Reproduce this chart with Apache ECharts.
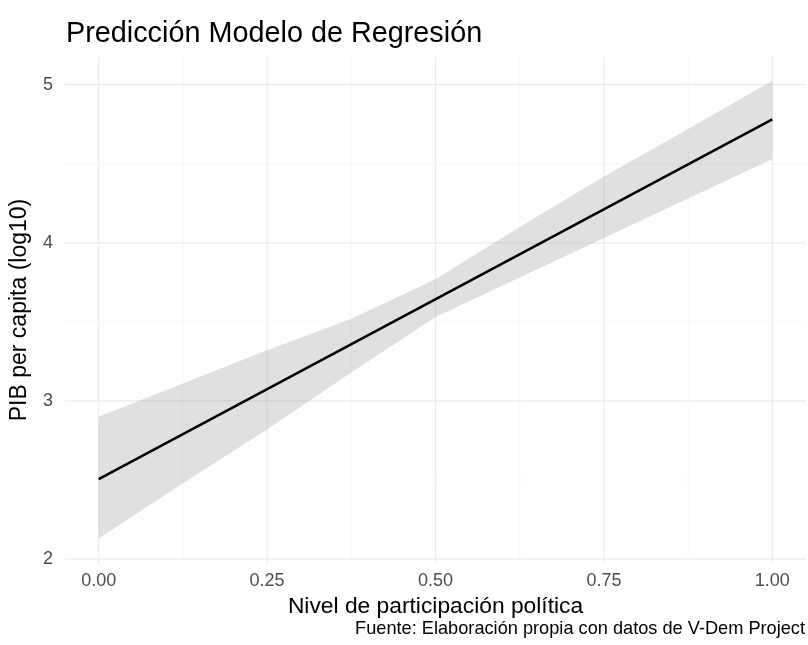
<!DOCTYPE html>
<html>
<head>
<meta charset="utf-8">
<script src="https://cdn.jsdelivr.net/npm/echarts@6/dist/echarts.min.js"></script>
<style>html,body{margin:0;padding:0;background:#fff;}#c{width:808px;height:645px;}</style>
</head>
<body>
<div id="c"></div>
<script>
// ---- data ----
var titleText = 'Predicción Modelo de Regresión';
var xName = 'Nivel de participación política';
var yName = 'PIB per capita (log10)';
var captionText = 'Fuente: Elaboración propia con datos de V-Dem Project';

var lineX = [0, 1];
var lineY = [2.505, 4.78];

var bandX = [0, 0.125, 0.25, 0.375, 0.5, 0.625, 0.75, 0.875, 1];
var bandLower = [2.13, 2.48, 2.82, 3.18, 3.53, 3.78, 4.03, 4.28, 4.53];
var bandUpper = [2.90, 3.11, 3.32, 3.52, 3.77, 4.10, 4.42, 4.72, 5.025];

var xTicks = [0, 0.25, 0.5, 0.75, 1];
var xMinorGrid = [0.125, 0.375, 0.625, 0.875];
var yTicks = [2, 3, 4, 5];
var yMinorGrid = [2.5, 3.5, 4.5];

var X_MIN = -0.05, X_MAX = 1.05, Y_MIN = 1.975, Y_MAX = 5.175;

// ---- build ----
var FONT = '"Liberation Sans", Arial, sans-serif';
var chart = echarts.init(document.getElementById('c'), null, {renderer: 'canvas'});

var gridItems = [];
xTicks.forEach(function (v) { gridItems.push({dir: 'x', v: v, major: true}); });
xMinorGrid.forEach(function (v) { gridItems.push({dir: 'x', v: v, major: false}); });
yTicks.forEach(function (v) { gridItems.push({dir: 'y', v: v, major: true}); });
yMinorGrid.forEach(function (v) { gridItems.push({dir: 'y', v: v, major: false}); });

var lineData = lineX.map(function (x, i) { return [x, lineY[i]]; });

chart.setOption({
  animation: false,
  backgroundColor: '#ffffff',
  title: {
    text: titleText,
    left: 61,
    top: 15,
    textStyle: {fontFamily: FONT, fontSize: 28.8, fontWeight: 'normal', color: '#000000'}
  },
  grid: {left: 65, right: 2, top: 57, bottom: 82, containLabel: false},
  xAxis: {
    type: 'value',
    min: X_MIN,
    max: X_MAX,
    name: xName,
    nameLocation: 'middle',
    nameGap: 30,
    nameTextStyle: {fontFamily: FONT, fontSize: 22.8, color: '#000000'},
    axisLine: {show: false},
    axisTick: {show: false},
    splitLine: {show: false},
    axisLabel: {
      customValues: xTicks,
      margin: 9,
      fontFamily: FONT, fontSize: 18, color: '#4d4d4d',
      formatter: function (v) { return Number(v).toFixed(2); }
    }
  },
  yAxis: {
    type: 'value',
    min: Y_MIN,
    max: Y_MAX,
    name: yName,
    nameLocation: 'middle',
    nameGap: 34,
    nameTextStyle: {fontFamily: FONT, fontSize: 23, color: '#000000'},
    axisLine: {show: false},
    axisTick: {show: false},
    splitLine: {show: false},
    axisLabel: {
      customValues: yTicks,
      margin: 12,
      fontFamily: FONT, fontSize: 18, color: '#4d4d4d',
      formatter: function (v) { return String(Math.round(v)); }
    }
  },
  series: [
    {
      type: 'custom', name: 'grid', z: 0, silent: true,
      data: gridItems.map(function (g, i) { return [i]; }),
      renderItem: function (params, api) {
        var g = gridItems[params.dataIndex];
        var p1, p2;
        if (g.dir === 'x') { p1 = api.coord([g.v, Y_MIN]); p2 = api.coord([g.v, Y_MAX]); }
        else { p1 = api.coord([X_MIN, g.v]); p2 = api.coord([X_MAX, g.v]); }
        return {
          type: 'line',
          shape: {x1: p1[0], y1: p1[1], x2: p2[0], y2: p2[1]},
          style: {stroke: g.major ? '#ebebeb' : '#f3f3f3', lineWidth: g.major ? 1.2 : 0.7}
        };
      }
    },
    {
      type: 'custom', name: 'band', z: 1, silent: true,
      data: [[0]],
      renderItem: function (params, api) {
        var pts = [];
        for (var i = 0; i < bandX.length; i++) pts.push(api.coord([bandX[i], bandUpper[i]]));
        for (var j = bandX.length - 1; j >= 0; j--) pts.push(api.coord([bandX[j], bandLower[j]]));
        return {
          type: 'polygon',
          shape: {points: pts},
          style: {fill: 'rgba(153,153,153,0.3)', stroke: 'none'}
        };
      }
    },
    {
      type: 'line', name: 'fit', data: lineData, z: 3,
      symbol: 'none', lineStyle: {color: '#000000', width: 2.5}
    }
  ],
  graphic: [{
    type: 'text',
    right: 3,
    top: 620,
    style: {text: captionText, fontFamily: FONT, fontSize: 18.2, fill: '#000000'}
  }]
});
</script>
</body>
</html>
